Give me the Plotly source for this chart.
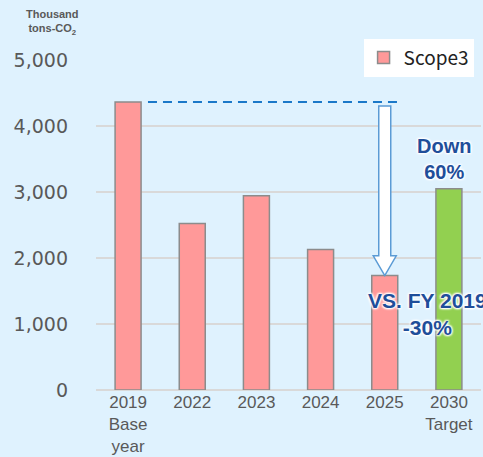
import plotly.graph_objects as go

categories = ["2019<br>Base<br>year", "2022", "2023", "2024", "2025", "2030<br>Target"]
values = [4364, 2521, 2945, 2127, 1733, 3051]
bar_colors = ["#FF9999", "#FF9999", "#FF9999", "#FF9999", "#FF9999", "#92D050"]
tick_vals = [0, 1000, 2000, 3000, 4000, 5000]
tick_text = ["0", "1,000", "2,000", "3,000", "4,000", "5,000"]

BG = "#DFF2FE"
BLUE_TXT = "#1F4E9A"
x_idx = list(range(len(categories)))

fig = go.Figure()
fig.add_trace(go.Bar(
    x=x_idx, y=values, name="Scope3",
    marker=dict(color=bar_colors, line=dict(color="#8C8C8C", width=1.5)),
    width=0.405, showlegend=True,
))

# dashed reference line at 2019 level
fig.add_shape(type="line", xref="x", yref="y", x0=0.31, x1=4.24,
              y0=values[0], y1=values[0],
              line=dict(color="#1A78C8", width=2, dash="9px,6px"))

# hollow arrow down to 2025 bar (x in pixels around the 2025 category)
top = values[0] - 60
head = values[4] + 300
tip = values[4]
path = (f"M -6,{top} L 6,{top} L 6,{head} L 11.5,{head} L 0,{tip} "
        f"L -11.5,{head} L -6,{head} Z")
fig.add_shape(type="path", xref="x", yref="y", xsizemode="pixel", xanchor=4,
              path=path, fillcolor="white", line=dict(color="#5B9BD5", width=1.5))

shadow = "1px 1px 2px white, -1px -1px 2px white, 1px -1px 2px white, -1px 1px 2px white"
fig.add_annotation(x=4.92, y=values[5], xref="x", yref="y", yanchor="bottom",
                   yshift=4, text="<b>Down<br>60%</b>", showarrow=False,
                   font=dict(family="Liberation Sans", size=20, color=BLUE_TXT, shadow=shadow))
fig.add_annotation(x=4.66, y=1000, xref="x", yref="y", yanchor="middle",
                   yshift=10, text="<b>VS. FY 2019<br>-30%</b>", showarrow=False,
                   font=dict(family="Liberation Sans", size=21, color=BLUE_TXT, shadow=shadow))

fig.add_annotation(x=-0.114, y=1.165, xref="paper", yref="paper", xanchor="center",
                   yanchor="top", text="<b>Thousand<br>tons-CO<sub>2</sub></b>",
                   showarrow=False,
                   font=dict(family="Liberation Sans", size=11, color="#595959"))

fig.update_layout(
    width=483, height=457,
    margin=dict(l=96, r=2, t=60, b=67),
    paper_bgcolor=BG, plot_bgcolor=BG,
    bargap=0.595,
    showlegend=True,
    legend=dict(x=0.695, y=1.065, xanchor="left", yanchor="top",
                bgcolor="white", borderwidth=0,
                font=dict(family="Noto Sans CJK JP", size=19, color="#222222"),
                itemwidth=30),
    xaxis=dict(tickvals=x_idx, ticktext=categories, range=[-0.5, 5.5],
               showgrid=False, zeroline=False, showline=False, ticks="",
               tickfont=dict(family="Liberation Sans", size=17, color="#595959")),
    yaxis=dict(range=[0, 5000], tickvals=tick_vals, ticktext=tick_text,
               showgrid=True, gridcolor="#D9D9D9", gridwidth=2,
               zeroline=True, zerolinecolor="#D9D9D9", zerolinewidth=2,
               showline=False, ticks="", ticklabelstandoff=27,
               tickfont=dict(family="DejaVu Sans", size=19, color="#595959")),
)

fig.write_html("out.html", config={"displayModeBar": False},
               post_script="document.body.style.margin='0';document.body.style.overflow='hidden';")
